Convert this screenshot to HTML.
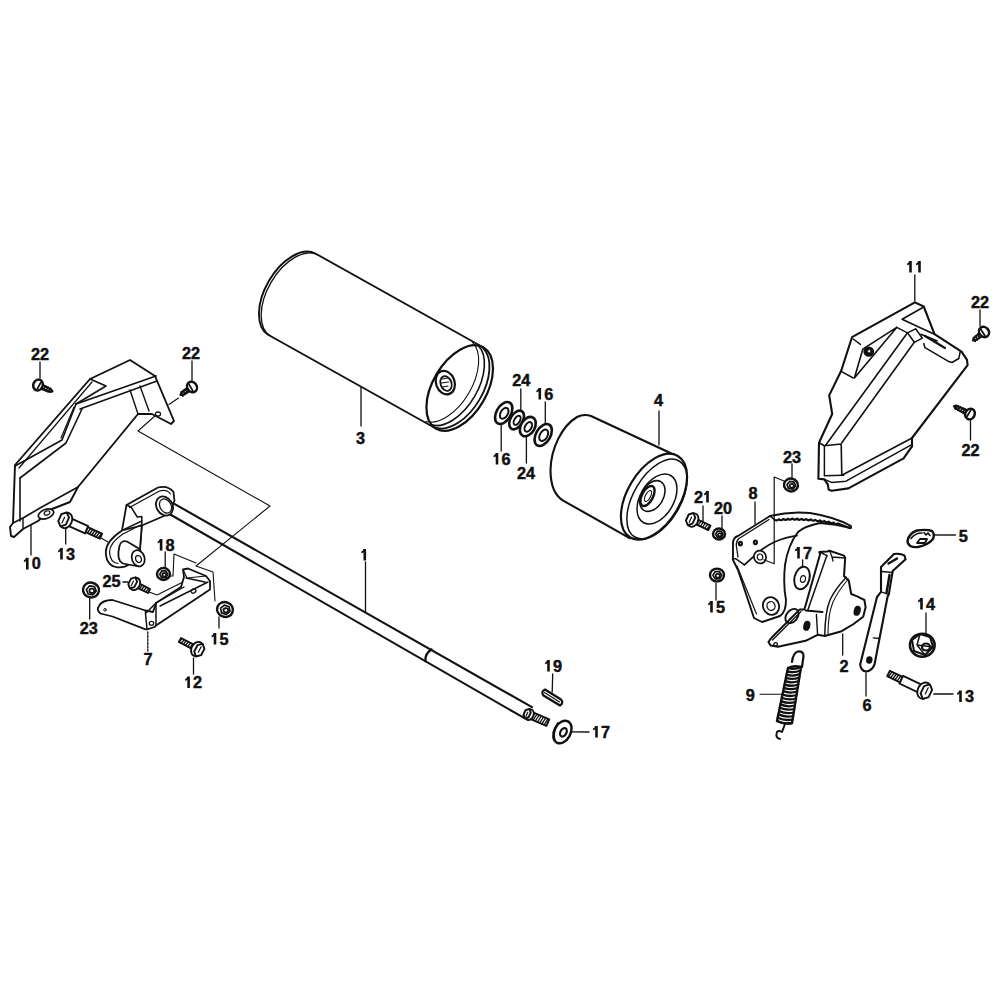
<!DOCTYPE html><html><head><meta charset="utf-8"><style>html,body{margin:0;padding:0;background:#fff;}svg{display:block;}text{font-family:"Liberation Sans",sans-serif;font-weight:bold;fill:#111;stroke:#111;stroke-width:0.45;text-anchor:middle;}</style></head><body>
<svg width="1000" height="1000" viewBox="0 0 1000 1000" stroke="#111" stroke-linecap="round" stroke-linejoin="round" fill="none">
<rect width="1000" height="1000" fill="#fff" stroke="none"/>
<path d="M156,415 L138,431 L270,506 L196,566 L213,572 L215,601" stroke-width="1.1" fill="none" />
<path d="M168,576 L173,576 L174,554 L196,563" stroke-width="1.1" fill="none" />
<path d="M149,592 L157,595 L183,582" stroke-width="1.1" fill="none" />
<path d="M178.5,398 L169,404.5" stroke-width="1.1" fill="none" />
<path d="M101,538 L108,542" stroke-width="1.1" fill="none" />
<path d="M130,360 L155,376 L174,421 L171,424 L152,414 L138,414 L78,487 L70,502 L52,509 L38,521 L23,529 L14,537 L11,536 L10,527 L13,523 L15,465 L90,379 L130,360 Z" stroke-width="1.9" fill="#fff" />
<path d="M76,404 L156,376" stroke-width="1.8" fill="none" />
<path d="M80,409 L157,381" stroke-width="1.5" fill="none" />
<path d="M90,379 L106,386 L76,404" stroke-width="1.6" fill="none" />
<path d="M76,404 L62,440 L15,466" stroke-width="1.6" fill="none" />
<path d="M82,409 L66,443 L20,478" stroke-width="1.6" fill="none" />
<path d="M19,468 L92,382" stroke-width="1.2" fill="none" />
<path d="M74,407 L61,438" stroke-width="1.2" fill="none" />
<path d="M20,478 L20,521" stroke-width="1.6" fill="none" />
<path d="M130,390 L138,414 M140,386 L149,411" stroke-width="1.4" fill="none" />
<ellipse cx="0" cy="0" rx="2.5" ry="2" transform="translate(158,414) rotate(0)" stroke-width="1.3" fill="none" />
<path d="M13,523 L23,518 L40,508 L78,487" stroke-width="1.6" fill="none" />
<path d="M23,518 L23,529" stroke-width="1.4" fill="none" />
<ellipse cx="0" cy="0" rx="8" ry="4.5" transform="translate(46,514) rotate(-20)" stroke-width="1.7" fill="#fff" />
<ellipse cx="0" cy="0" rx="3" ry="2" transform="translate(47,513) rotate(-20)" stroke-width="1.2" fill="none" />
<line x1="31" y1="525" x2="31" y2="555" stroke-width="1.3" />
<path d="M26,557.7 L28.6,557.7 L28.6,569.4 L26,569.4 L26,561.1 Q25.1,561.9 23.9,562.1 L23.9,560.2 Q25.3,559.8 26,557.7 Z" fill="#111" stroke="none"/>
<text x="36.3" y="569.4" font-size="16.3">0</text>
<path d="M37.1,387.1 L50.1,391.9 L52.5,391.5 L51.2,389.5 L38.9,382.9 Z" stroke-width="2.2" fill="#fff" />
<path d="M43,389.7 L45.8,386" stroke-width="1.6" fill="none" />
<path d="M45.4,390.8 L48.1,387.1" stroke-width="1.6" fill="none" />
<path d="M47.8,391.8 L50.5,388.1" stroke-width="1.6" fill="none" />
<ellipse cx="0" cy="0" rx="4.7" ry="5.5" transform="translate(38,385) rotate(24.1)" stroke-width="2.5" fill="#fff" />
<path d="M37.3,388.9 L40.7,382.6" stroke-width="1.8" fill="none" />
<line x1="40" y1="362" x2="40" y2="378" stroke-width="1.3" />
<text x="35.5" y="359.6" font-size="16.3">2</text>
<text x="44.5" y="359.6" font-size="16.3">2</text>
<path d="M190.7,385.2 L181.4,392.7 L180.5,395 L182.9,395 L193.3,388.8 Z" stroke-width="2.2" fill="#fff" />
<path d="M185.4,388.9 L187.1,393.1" stroke-width="1.6" fill="none" />
<path d="M183.2,390.3 L185,394.6" stroke-width="1.6" fill="none" />
<path d="M181.1,391.8 L182.9,396.1" stroke-width="1.6" fill="none" />
<ellipse cx="0" cy="0" rx="4.7" ry="5.5" transform="translate(192,387) rotate(145.2)" stroke-width="2.5" fill="#fff" />
<path d="M189,384.4 L192.7,390.6" stroke-width="1.8" fill="none" />
<line x1="192" y1="361" x2="192" y2="381" stroke-width="1.3" />
<text x="186.5" y="358.6" font-size="16.3">2</text>
<text x="195.5" y="358.6" font-size="16.3">2</text>
<path d="M85.5,532.2 L99.9,538.7 L102.1,533.7 L87.7,527.2 Z" stroke-width="1.9" fill="#fff" />
<path d="M87.3,533 L90.6,528.5" stroke-width="1.3" fill="none" />
<path d="M89.5,534 L92.8,529.5" stroke-width="1.3" fill="none" />
<path d="M91.7,535 L95,530.5" stroke-width="1.3" fill="none" />
<path d="M93.9,536 L97.2,531.5" stroke-width="1.3" fill="none" />
<path d="M96,537 L99.4,532.5" stroke-width="1.3" fill="none" />
<path d="M98.2,538 L101.6,533.4" stroke-width="1.3" fill="none" />
<path d="M63.4,523.6 L85,533.4 L88.2,526.1 L66.6,516.4 Z" stroke-width="1.9" fill="#fff" />
<ellipse cx="0" cy="0" rx="6" ry="8" transform="translate(65.9,520.4) rotate(24.2)" stroke-width="1.9" fill="#fff" />
<path d="M65.9,524.6 L60.5,526.3 L58.3,521.1 L61.4,514.2 L66.8,512.5 L69,517.6Z" stroke-width="1.9" fill="#fff" />
<path d="M62,523 L64.6,517.2" stroke-width="1.2" fill="none" />
<line x1="65.7" y1="528" x2="65.7" y2="544" stroke-width="1.3" />
<path d="M60.2,547.9 L62.8,547.9 L62.8,559.6 L60.2,559.6 L60.2,551.3 Q59.3,552.1 58.1,552.3 L58.1,550.4 Q59.5,550 60.2,547.9 Z" fill="#111" stroke="none"/>
<text x="70.5" y="559.6" font-size="16.3">3</text>
<ellipse cx="0" cy="0" rx="8" ry="7.4" transform="translate(91,590) rotate(10)" stroke-width="2.4" fill="#fff" />
<path d="M96.2,591.1 L93,594.8 L88.1,594 L86.4,589.5 L89.6,585.8 L94.5,586.6Z" stroke-width="1.7" fill="none" />
<ellipse cx="0" cy="0" rx="2.4" ry="2.2" transform="translate(91.8,590.8) rotate(0)" stroke-width="1.8" fill="none" />
<line x1="89.7" y1="598" x2="89.7" y2="619" stroke-width="1.3" />
<text x="84.3" y="634.1" font-size="16.3">2</text>
<text x="93.3" y="634.1" font-size="16.3">3</text>
<path d="M170,501.4 L532,707.2 M524.5,718.2 L166.8,512.5" stroke-width="2.1" fill="none" />
<path d="M431.5,649.5 Q424.5,654 425.5,661" stroke-width="2.4" fill="none" />
<path d="M529,718.3 L546.4,725.8 L549.2,719.4 L531.8,711.9 Z" stroke-width="2.0" fill="#fff" />
<path d="M530.9,719.1 L534.8,713.2" stroke-width="1.3" fill="none" />
<path d="M533.1,720.1 L537,714.1" stroke-width="1.3" fill="none" />
<path d="M535.3,721 L539.2,715.1" stroke-width="1.3" fill="none" />
<path d="M537.5,722 L541.4,716" stroke-width="1.3" fill="none" />
<path d="M539.7,722.9 L543.6,717" stroke-width="1.3" fill="none" />
<path d="M541.9,723.9 L545.8,717.9" stroke-width="1.3" fill="none" />
<path d="M544.1,724.8 L548,718.9" stroke-width="1.3" fill="none" />
<path d="M527.1,717.5 L529,718.3 L531.8,711.9 L529.9,711.1 Z" stroke-width="2.0" fill="#fff" />
<ellipse cx="0" cy="0" rx="4.1" ry="5.5" transform="translate(529.4,714.7) rotate(23.3)" stroke-width="2.0" fill="#fff" />
<path d="M528.7,717.2 L525.1,718.5 L523.5,715 L525.5,710.2 L529.2,708.9 L530.8,712.4Z" stroke-width="2.0" fill="#fff" />
<path d="M526,716.2 L527.8,712.2" stroke-width="1.2" fill="none" />
<path d="M126.5,505 L158,487.5 Q168,485 173.5,492 L174.5,501 L166,515 L161.6,517 L141.8,525.5 L140,548.4 L122,530.4 Z" stroke-width="1.8" fill="#fff" />
<path d="M129.5,507.5 L159.5,491 Q167,489 170.5,494" stroke-width="1.2" fill="none" />
<path d="M126.5,505 L131,507 L137.3,517 L141.8,516.5 L141.8,525.5" stroke-width="1.5" fill="none" />
<path d="M122,530.4 Q106,541 105.8,552 Q106,566 117.5,567.3 Q124,568 130,564 L142,560 L140,548.4 L141.8,525.5 Z" stroke-width="1.8" fill="#fff" />
<path d="M122,530.4 L141.8,521" stroke-width="1.4" fill="none" />
<path d="M124,533.5 L140.5,525" stroke-width="1.2" fill="none" />
<path d="M123.5,533.5 Q109.5,543 109.5,552 Q110,562.5 118,563.5" stroke-width="1.2" fill="none" />
<ellipse cx="0" cy="0" rx="8" ry="10" transform="translate(164.5,506) rotate(-30)" stroke-width="1.8" fill="#fff" />
<ellipse cx="0" cy="0" rx="5.5" ry="7.5" transform="translate(165.5,506) rotate(-30)" stroke-width="1.3" fill="none" />
<path d="M119.5,546 Q121,540 127,541.5 L140,549.3 L139,566.5 L123,563.5 Q116,560 119.5,546 Z" stroke-width="1.7" fill="#fff" />
<ellipse cx="0" cy="0" rx="6.3" ry="8.3" transform="translate(138.2,558.3) rotate(-20)" stroke-width="1.7" fill="#fff" />
<ellipse cx="0" cy="0" rx="2.8" ry="3.5" transform="translate(138.5,559) rotate(-20)" stroke-width="1.3" fill="none" />
<path d="M156,603 L181,587 L184,577 L183,569.5 L188,568.5 L206,576 L210,581 L210,589.5 L156,625.5 L154.5,627 L147,629.3 L145.5,629.3 L112.5,616.5 L100.5,613.5 Q96,610 99,606 Q102,600 112.5,600 L145.5,610.5 L153,612 Z" stroke-width="1.8" fill="#fff" />
<path d="M145.5,613.5 L147,629.3 M145.5,610.5 L145.5,613.5 L156,603" stroke-width="1.5" fill="none" />
<path d="M156,603 L156,625.5" stroke-width="1.5" fill="none" />
<path d="M157.5,602 L184,587 M186,578 L205,582 M160,606 L208,582" stroke-width="1.4" fill="none" />
<path d="M183,569.5 L187,578 L206,576" stroke-width="1.2" fill="none" />
<ellipse cx="0" cy="0" rx="2.5" ry="2" transform="translate(193.5,591) rotate(-30)" stroke-width="1.3" fill="none" />
<ellipse cx="0" cy="0" rx="2.2" ry="2" transform="translate(151.5,623.3) rotate(0)" stroke-width="1.3" fill="none" />
<ellipse cx="0" cy="0" rx="1.3" ry="1.3" transform="translate(105,609.8) rotate(0)" stroke-width="1.0" fill="none" />
<line x1="147.8" y1="632" x2="147.8" y2="651" stroke-width="1.3" stroke-dasharray="2,1.5"/>
<text x="148" y="664.6" font-size="16.3">7</text>
<ellipse cx="0" cy="0" rx="6.5" ry="6" transform="translate(163.5,574) rotate(0)" stroke-width="2.4" fill="#fff" />
<path d="M167.8,574.3 L165.8,577.7 L161.8,577.7 L159.8,574.3 L161.8,570.9 L165.8,570.9Z" stroke-width="1.7" fill="none" />
<ellipse cx="0" cy="0" rx="1.9" ry="1.8" transform="translate(164.3,574.8) rotate(0)" stroke-width="1.8" fill="none" />
<line x1="165.2" y1="552" x2="165.2" y2="567" stroke-width="1.3" />
<path d="M159.8,538.9 L162.4,538.9 L162.4,550.6 L159.8,550.6 L159.8,542.3 Q158.9,543.1 157.7,543.3 L157.7,541.4 Q159.1,541 159.8,538.9 Z" fill="#111" stroke="none"/>
<text x="170.1" y="550.6" font-size="16.3">8</text>
<path d="M137.5,587.8 L148,593 L150,589 L139.5,583.7 Z" stroke-width="1.9" fill="#fff" />
<path d="M139.3,588.7 L142.4,585.2" stroke-width="1.3" fill="none" />
<path d="M141.4,589.7 L144.5,586.2" stroke-width="1.3" fill="none" />
<path d="M143.6,590.8 L146.7,587.3" stroke-width="1.3" fill="none" />
<path d="M145.7,591.9 L148.8,588.4" stroke-width="1.3" fill="none" />
<path d="M132.9,585.7 L137.4,588 L139.6,583.5 L135.1,581.3 Z" stroke-width="1.9" fill="#fff" />
<ellipse cx="0" cy="0" rx="4.9" ry="6.5" transform="translate(134.9,583.9) rotate(26.6)" stroke-width="1.9" fill="#fff" />
<path d="M134.3,587.1 L129.9,588.4 L128.3,584.1 L131,578.6 L135.4,577.3 L137.1,581.6Z" stroke-width="1.9" fill="#fff" />
<path d="M131.2,585.7 L133.5,581.1" stroke-width="1.2" fill="none" />
<line x1="123" y1="582" x2="128" y2="582" stroke-width="1.3" />
<text x="107" y="586.6" font-size="16.3">2</text>
<text x="116" y="586.6" font-size="16.3">5</text>
<ellipse cx="0" cy="0" rx="8" ry="7.4" transform="translate(225,609.5) rotate(20)" stroke-width="2.4" fill="#fff" />
<path d="M230,611.4 L226.2,614.5 L221.5,612.9 L220.6,608.2 L224.4,605.1 L229.1,606.7Z" stroke-width="1.7" fill="none" />
<ellipse cx="0" cy="0" rx="2.4" ry="2.2" transform="translate(225.8,610.3) rotate(0)" stroke-width="1.8" fill="none" />
<line x1="219" y1="617" x2="219" y2="628" stroke-width="1.3" />
<path d="M213.7,632.9 L216.3,632.9 L216.3,644.6 L213.7,644.6 L213.7,636.3 Q212.8,637.1 211.6,637.3 L211.6,635.4 Q213,635 213.7,632.9 Z" fill="#111" stroke="none"/>
<text x="224" y="644.6" font-size="16.3">5</text>
<path d="M194.6,645.1 L181.1,638 L178.9,642 L192.4,649.1 Z" stroke-width="1.9" fill="#fff" />
<path d="M192.8,644.2 L189.6,647.6" stroke-width="1.3" fill="none" />
<path d="M190.7,643.1 L187.5,646.5" stroke-width="1.3" fill="none" />
<path d="M188.5,642 L185.4,645.4" stroke-width="1.3" fill="none" />
<path d="M186.4,640.8 L183.3,644.3" stroke-width="1.3" fill="none" />
<path d="M184.3,639.7 L181.1,643.1" stroke-width="1.3" fill="none" />
<path d="M182.2,638.6 L179,642" stroke-width="1.3" fill="none" />
<path d="M199.1,647.5 L194.6,645.1 L192.4,649.1 L196.9,651.5 Z" stroke-width="1.9" fill="#fff" />
<ellipse cx="0" cy="0" rx="5.6" ry="7.5" transform="translate(197.1,649) rotate(-152.2)" stroke-width="1.9" fill="#fff" />
<path d="M197.5,645.2 L202.7,643.9 L204.4,648.9 L201.1,655.2 L196,656.5 L194.2,651.5Z" stroke-width="1.9" fill="#fff" />
<path d="M201.1,646.9 L198.3,652.2" stroke-width="1.2" fill="none" />
<line x1="193.5" y1="658" x2="193.5" y2="674" stroke-width="1.3" />
<path d="M187.3,676.4 L189.9,676.4 L189.9,688.1 L187.3,688.1 L187.3,679.8 Q186.4,680.6 185.2,680.8 L185.2,678.9 Q186.6,678.5 187.3,676.4 Z" fill="#111" stroke="none"/>
<text x="197.6" y="688.1" font-size="16.3">2</text>
<path d="M315.3,253.5 L483.5,347.5 L435.9,428.5 L267.7,334.5 A47,27 -59.6 0 1 315.3,253.5 Z" stroke-width="1.9" fill="#fff" />
<path d="M270.7,336.3 A47,27 -59.6 0 1 318.3,255.2" stroke-width="1.3" fill="none" />
<ellipse cx="0" cy="0" rx="47" ry="27" transform="translate(459.7,388) rotate(-59.6)" stroke-width="2.2" fill="#fff" />
<path d="M483.2,348.4 A46.5,26.5 -59.6 0 1 436.6,427.8" stroke-width="1.8" fill="none" />
<path d="M478,345.3 A46.5,26.5 -59.6 0 1 431.4,424.8" stroke-width="1.6" fill="none" />
<path d="M472.4,342.1 A46.5,26.5 -59.6 0 1 425.8,421.5" stroke-width="1.1" fill="none" />
<ellipse cx="0" cy="0" rx="9.3" ry="12" transform="translate(445.3,382.6) rotate(-20)" stroke-width="2.2" fill="#fff" />
<ellipse cx="0" cy="0" rx="5.5" ry="7.5" transform="translate(446,383.5) rotate(-20)" stroke-width="1.8" fill="none" />
<path d="M442,379 l6,-1 M441.5,383 l7,-1 M442,387 l6,-1" stroke-width="1.2" fill="none" />
<line x1="361" y1="387" x2="361" y2="426" stroke-width="1.3" />
<text x="360.5" y="443.8" font-size="16.3">3</text>
<ellipse cx="0" cy="0" rx="12" ry="7.2" transform="translate(503.7,413) rotate(-60)" stroke-width="2.6" fill="#fff" />
<ellipse cx="0" cy="0" rx="6" ry="3.6" transform="translate(504.2,413.3) rotate(-60)" stroke-width="2.0" fill="none" />
<ellipse cx="0" cy="0" rx="10.2" ry="6.2" transform="translate(516.6,420) rotate(-60)" stroke-width="2.6" fill="#fff" />
<ellipse cx="0" cy="0" rx="5" ry="2.8" transform="translate(517.1,420.3) rotate(-60)" stroke-width="2.0" fill="none" />
<ellipse cx="0" cy="0" rx="10.4" ry="7" transform="translate(527.8,426.6) rotate(-60)" stroke-width="2.6" fill="#fff" />
<ellipse cx="0" cy="0" rx="5.2" ry="3.2" transform="translate(528.3,426.9) rotate(-60)" stroke-width="2.0" fill="none" />
<ellipse cx="0" cy="0" rx="12" ry="7.2" transform="translate(543.2,435) rotate(-60)" stroke-width="2.6" fill="#fff" />
<ellipse cx="0" cy="0" rx="6.2" ry="3.8" transform="translate(543.7,435.3) rotate(-60)" stroke-width="2.0" fill="none" />
<line x1="520.8" y1="389" x2="520.8" y2="411" stroke-width="1.3" />
<text x="516.7" y="386.1" font-size="16.3">2</text>
<text x="525.7" y="386.1" font-size="16.3">4</text>
<line x1="545.3" y1="402" x2="545.3" y2="424" stroke-width="1.3" />
<path d="M538.5,387.9 L541.1,387.9 L541.1,399.6 L538.5,399.6 L538.5,391.3 Q537.6,392.1 536.4,392.3 L536.4,390.4 Q537.8,390 538.5,387.9 Z" fill="#111" stroke="none"/>
<text x="548.8" y="399.6" font-size="16.3">6</text>
<line x1="501.2" y1="425" x2="501.2" y2="451" stroke-width="1.3" />
<path d="M495.7,452.9 L498.3,452.9 L498.3,464.6 L495.7,464.6 L495.7,456.3 Q494.8,457.1 493.6,457.3 L493.6,455.4 Q495,455 495.7,452.9 Z" fill="#111" stroke="none"/>
<text x="506" y="464.6" font-size="16.3">6</text>
<line x1="526.4" y1="437" x2="526.4" y2="463" stroke-width="1.3" />
<text x="521.5" y="478.6" font-size="16.3">2</text>
<text x="530.5" y="478.6" font-size="16.3">4</text>
<path d="M671.4,453.5 L591,416 Q584,413.5 577,417 C562,426 551,448 550.5,470 C550.5,485 555,496 563.6,500.8 L629.6,538.2 Z" stroke-width="2.1" fill="#fff" />
<ellipse cx="0" cy="0" rx="47.2" ry="26.6" transform="translate(654,496.7) rotate(-59.7)" stroke-width="2.2" fill="#fff" />
<ellipse cx="0" cy="0" rx="44" ry="23.6" transform="translate(657,499) rotate(-59.7)" stroke-width="1.5" fill="none" />
<ellipse cx="0" cy="0" rx="27.2" ry="16.8" transform="translate(657,499) rotate(-59.7)" stroke-width="1.5" fill="none" />
<ellipse cx="0" cy="0" rx="16.6" ry="11" transform="translate(652.4,496) rotate(-59.7)" stroke-width="1.6" fill="none" />
<ellipse cx="0" cy="0" rx="11" ry="5.5" transform="translate(647.5,496) rotate(-62)" stroke-width="2.4" fill="none" />
<ellipse cx="0" cy="0" rx="6" ry="2.5" transform="translate(648,496) rotate(-62)" stroke-width="1.2" fill="none" />
<line x1="659" y1="411" x2="659" y2="445" stroke-width="1.3" />
<text x="658.6" y="405.9" font-size="16.3">4</text>
<path d="M545,689.5 L561,699.5 Q564,703 560,705.5 L543.5,695.5 Q540.5,691.5 545,689.5 Z" stroke-width="2.2" fill="#fff" />
<line x1="544.5" y1="692.5" x2="559.5" y2="702" stroke-width="1.3" />
<line x1="552.7" y1="674" x2="552.2" y2="692" stroke-width="1.3" />
<path d="M547.2,659.9 L549.8,659.9 L549.8,671.6 L547.2,671.6 L547.2,663.3 Q546.3,664.1 545.1,664.3 L545.1,662.4 Q546.5,662 547.2,659.9 Z" fill="#111" stroke="none"/>
<text x="557.5" y="671.6" font-size="16.3">9</text>
<ellipse cx="0" cy="0" rx="12" ry="8.2" transform="translate(562.4,732) rotate(-62)" stroke-width="2.4" fill="#fff" />
<path d="M555,741 Q552,733 558,723" stroke-width="2.0" fill="none" />
<ellipse cx="0" cy="0" rx="4.5" ry="3" transform="translate(563.4,732.3) rotate(-62)" stroke-width="2.2" fill="none" />
<line x1="572" y1="731.8" x2="589" y2="732" stroke-width="1.3" />
<path d="M595.2,725.9 L597.8,725.9 L597.8,737.6 L595.2,737.6 L595.2,729.3 Q594.3,730.1 593.1,730.3 L593.1,728.4 Q594.5,728 595.2,725.9 Z" fill="#111" stroke="none"/>
<text x="605.5" y="737.6" font-size="16.3">7</text>
<line x1="365.5" y1="562" x2="365.5" y2="612" stroke-width="1.3" />
<path d="M363.5,548.9 L366.1,548.9 L366.1,560.6 L363.5,560.6 L363.5,552.3 Q362.6,553.1 361.4,553.3 L361.4,551.4 Q362.8,551 363.5,548.9 Z" fill="#111" stroke="none"/>
<path d="M914.9,302.4 L923.7,306.5 L934.5,334.2 L961.5,351.7 L967,359.8 L967.6,365.2 L912,438 L912,446.4 L903.6,458.4 L848.4,488.4 L831.6,490.8 L828.6,489.6 L828,484.8 L824.4,479.4 L818.4,478.8 L819,442.8 L832.2,414 L829.2,395.4 L841.2,370.8 L852,337.2 Z" stroke-width="2.1" fill="#fff" />
<path d="M853.2,339 L860.4,344.4 M841.2,371.4 L853.2,378" stroke-width="1.5" fill="none" />
<path d="M896.7,327.4 L862.8,349.2 L854.4,378 Z" stroke-width="1.6" fill="none" />
<path d="M902.1,319.3 L922.4,307.8 M902.1,319.3 L919.7,327.4 L934.5,334.2" stroke-width="1.6" fill="none" />
<path d="M896.7,327.4 L907.5,332.8 L915.6,328.8 M907.5,332.8 L914.3,342.3 L922.4,338.2 L915.6,328.8" stroke-width="1.5" fill="none" />
<path d="M907.5,332.8 L825.6,445.2 M914.3,342.3 L841.8,442.8" stroke-width="1.6" fill="none" />
<path d="M921,334.2 L937.2,341 M923.7,343.6 L925,347.7 L948,361.2 L952,362.5 L958.8,358.5 L960.2,351.7" stroke-width="1.5" fill="none" />
<path d="M925,336 L945,348" stroke-width="2.2" fill="none" />
<path d="M819,442.8 L824.4,445.8 L841.2,444 L841.8,475.2 L912,438" stroke-width="1.6" fill="none" />
<path d="M824.4,445.8 L824.4,475.8 L843.6,475.2" stroke-width="1.5" fill="none" />
<path d="M824.4,479.4 L831.6,482.4 L846,481.2 L910.8,445.2" stroke-width="1.5" fill="none" />
<ellipse cx="0" cy="0" rx="4.6" ry="4.4" transform="translate(868.8,351.6) rotate(0)" stroke-width="1.6" fill="#111" />
<ellipse cx="0" cy="0" rx="1.6" ry="1.6" transform="translate(869.3,351.2) rotate(0)" stroke-width="0.8" fill="#fff" />
<line x1="914.8" y1="275" x2="914.8" y2="301" stroke-width="1.3" />
<path d="M909.2,260.9 L911.8,260.9 L911.8,272.6 L909.2,272.6 L909.2,264.3 Q908.3,265.1 907.1,265.3 L907.1,263.4 Q908.5,263 909.2,260.9 Z" fill="#111" stroke="none"/>
<path d="M918.2,260.9 L920.8,260.9 L920.8,272.6 L918.2,272.6 L918.2,264.3 Q917.3,265.1 916.1,265.3 L916.1,263.4 Q917.5,263 918.2,260.9 Z" fill="#111" stroke="none"/>
<path d="M982.6,330.2 L973.8,338.2 L973,340.5 L975.4,340.3 L985.4,333.8 Z" stroke-width="2.2" fill="#fff" />
<path d="M977.5,334.2 L979.4,338.4" stroke-width="1.6" fill="none" />
<path d="M975.4,335.8 L977.4,340" stroke-width="1.6" fill="none" />
<path d="M973.4,337.4 L975.3,341.5" stroke-width="1.6" fill="none" />
<ellipse cx="0" cy="0" rx="4.7" ry="5.5" transform="translate(984,332) rotate(142.3)" stroke-width="2.5" fill="#fff" />
<path d="M980.9,329.6 L984.8,335.5" stroke-width="1.8" fill="none" />
<line x1="980" y1="310" x2="980" y2="326" stroke-width="1.3" />
<text x="975.5" y="307.6" font-size="16.3">2</text>
<text x="984.5" y="307.6" font-size="16.3">2</text>
<path d="M971,412 L956.4,405.7 L954,406 L955.2,408.1 L969,416 Z" stroke-width="2.2" fill="#fff" />
<path d="M965.2,409.1 L962.3,412.7" stroke-width="1.6" fill="none" />
<path d="M962.9,407.9 L960,411.5" stroke-width="1.6" fill="none" />
<path d="M960.5,406.8 L957.6,410.3" stroke-width="1.6" fill="none" />
<path d="M958.2,405.6 L955.3,409.2" stroke-width="1.6" fill="none" />
<ellipse cx="0" cy="0" rx="4.7" ry="5.5" transform="translate(970,414) rotate(-153.4)" stroke-width="2.5" fill="#fff" />
<path d="M970.8,410.1 L967.2,416.3" stroke-width="1.8" fill="none" />
<line x1="970.5" y1="419.5" x2="970.5" y2="440" stroke-width="1.3" />
<text x="966" y="455.6" font-size="16.3">2</text>
<text x="975" y="455.6" font-size="16.3">2</text>
<path d="M733,542 Q734,537 738,536 L770,516 Q790,511 810,513 Q835,517 851,526 L851,528 Q836,524 820,523 Q805,526 798,532 Q788,545 785,565 Q783,585 786,600 Q786,612 780,616 L762,622 L754,618 L738,570 L733,560 Z" stroke-width="1.9" fill="#fff" />
<path d="M770,516 L774.2,519.5" stroke-width="1.6" fill="none" />
<path d="M774.2,519.5 Q776.5,521.5 778.8,519.2 Q781,521.3 783.3,518.9 Q785.6,521 787.9,518.7 Q790.2,520.9 792.4,518.6 Q794.7,520.8 797,518.6 Q799.3,520.9 801.5,518.8 Q803.8,521.1 806.1,519 Q808.4,521.3 810.7,519.3 Q812.9,521.7 815.2,519.8 Q817.5,522.2 819.8,520.3 Q822,522.8 824.3,521 Q826.6,523.5 828.9,521.7 Q831.2,524.3 833.4,522.5 Q835.7,525.2 838,523.4 L849.6,528" stroke-width="2.2" fill="none" />
<path d="M744.4,564.8 L757.6,552.8 Q766,546 774.4,542 Q786,537 797,535.6" stroke-width="1.8" fill="none" />
<path d="M769,519.5 L739,538.5 Q735.5,541.5 736.5,547 L738,557" stroke-width="1.3" fill="none" />
<path d="M732.4,558.8 L736,558.8 L744.4,564.8" stroke-width="1.5" fill="none" />
<path d="M737,566 L756.5,614" stroke-width="1.2" fill="none" />
<ellipse cx="0" cy="0" rx="8" ry="9" transform="translate(771,606) rotate(-20)" stroke-width="1.8" fill="#fff" />
<ellipse cx="0" cy="0" rx="4" ry="4.5" transform="translate(771,606) rotate(-20)" stroke-width="1.3" fill="none" />
<ellipse cx="0" cy="0" rx="6" ry="6.5" transform="translate(760,557) rotate(-20)" stroke-width="1.7" fill="#fff" />
<ellipse cx="0" cy="0" rx="2.8" ry="3" transform="translate(760,557) rotate(-20)" stroke-width="1.2" fill="none" />
<ellipse cx="0" cy="0" rx="1.5" ry="1.8" transform="translate(740.4,543.6) rotate(0)" stroke-width="2.2" fill="none" />
<ellipse cx="0" cy="0" rx="1.5" ry="1.8" transform="translate(755.4,542.3) rotate(0)" stroke-width="2.2" fill="none" />
<line x1="755" y1="502" x2="755" y2="524" stroke-width="1.3" />
<text x="753" y="498.6" font-size="16.3">8</text>
<path d="M784,481 L774.2,477 L774.2,563.7 L763.8,559.8" stroke-width="1.2" fill="none" />
<ellipse cx="0" cy="0" rx="7" ry="6.4" transform="translate(791,485) rotate(10)" stroke-width="2.4" fill="#fff" />
<path d="M795.6,486 L792.8,489.2 L788.5,488.5 L787,484.6 L789.8,481.4 L794.1,482.1Z" stroke-width="1.7" fill="none" />
<ellipse cx="0" cy="0" rx="2.1" ry="2" transform="translate(791.8,485.8) rotate(0)" stroke-width="1.8" fill="none" />
<line x1="792" y1="464" x2="792" y2="479" stroke-width="1.3" />
<text x="787.5" y="462.6" font-size="16.3">2</text>
<text x="796.5" y="462.6" font-size="16.3">3</text>
<path d="M696.2,524.4 L708.3,530.1 L710.5,525.5 L698.3,519.9 Z" stroke-width="1.9" fill="#fff" />
<path d="M698,525.2 L701.2,521.2" stroke-width="1.3" fill="none" />
<path d="M700.2,526.3 L703.4,522.2" stroke-width="1.3" fill="none" />
<path d="M702.3,527.3 L705.5,523.2" stroke-width="1.3" fill="none" />
<path d="M704.5,528.3 L707.7,524.3" stroke-width="1.3" fill="none" />
<path d="M706.7,529.3 L709.9,525.3" stroke-width="1.3" fill="none" />
<path d="M690.9,522 L696.2,524.4 L698.3,519.9 L693.1,517.4 Z" stroke-width="1.9" fill="#fff" />
<ellipse cx="0" cy="0" rx="5.2" ry="7" transform="translate(692.9,520.1) rotate(25)" stroke-width="1.9" fill="#fff" />
<path d="M692.5,523.6 L687.8,525.1 L685.9,520.5 L688.7,514.5 L693.4,513 L695.3,517.6Z" stroke-width="1.9" fill="#fff" />
<path d="M689.2,522.2 L691.5,517.2" stroke-width="1.2" fill="none" />
<line x1="703" y1="506" x2="703" y2="522" stroke-width="1.3" />
<text x="698.5" y="502.6" font-size="16.3">2</text>
<path d="M706.2,490.9 L708.8,490.9 L708.8,502.6 L706.2,502.6 L706.2,494.3 Q705.3,495.1 704.1,495.3 L704.1,493.4 Q705.5,493 706.2,490.9 Z" fill="#111" stroke="none"/>
<ellipse cx="0" cy="0" rx="6" ry="5.5" transform="translate(719,534) rotate(0)" stroke-width="2.4" fill="#fff" />
<path d="M723,534.3 L721.2,537.4 L717.4,537.4 L715.6,534.3 L717.4,531.2 L721.2,531.2Z" stroke-width="1.7" fill="none" />
<ellipse cx="0" cy="0" rx="1.8" ry="1.7" transform="translate(719.8,534.8) rotate(0)" stroke-width="1.8" fill="none" />
<line x1="722" y1="516" x2="722" y2="528" stroke-width="1.3" />
<text x="718.5" y="513.6" font-size="16.3">2</text>
<text x="727.5" y="513.6" font-size="16.3">0</text>
<ellipse cx="0" cy="0" rx="7" ry="6.4" transform="translate(717,575) rotate(0)" stroke-width="2.4" fill="#fff" />
<path d="M721.6,575.3 L719.5,578.9 L715.1,578.9 L713,575.3 L715.1,571.7 L719.5,571.7Z" stroke-width="1.7" fill="none" />
<ellipse cx="0" cy="0" rx="2.1" ry="2" transform="translate(717.8,575.8) rotate(0)" stroke-width="1.8" fill="none" />
<line x1="716" y1="583" x2="716" y2="600" stroke-width="1.3" />
<path d="M710.2,600.9 L712.8,600.9 L712.8,612.6 L710.2,612.6 L710.2,604.3 Q709.3,605.1 708.1,605.3 L708.1,603.4 Q709.5,603 710.2,600.9 Z" fill="#111" stroke="none"/>
<text x="720.5" y="612.6" font-size="16.3">5</text>
<ellipse cx="0" cy="0" rx="7.5" ry="11.5" transform="translate(802,578) rotate(15)" stroke-width="1.9" fill="#fff" />
<ellipse cx="0" cy="0" rx="2.5" ry="3.5" transform="translate(803,579) rotate(15)" stroke-width="1.2" fill="none" />
<line x1="802.6" y1="560" x2="802.6" y2="567" stroke-width="1.3" />
<path d="M797.2,546.9 L799.8,546.9 L799.8,558.6 L797.2,558.6 L797.2,550.3 Q796.3,551.1 795.1,551.3 L795.1,549.4 Q796.5,549 797.2,546.9 Z" fill="#111" stroke="none"/>
<text x="807.5" y="558.6" font-size="16.3">7</text>
<path d="M819.4,552 L827.2,551.5 L829.6,550.8 L844,555.6 L845.2,558 L844,576 L848.8,580.8 L851.2,594 L857.2,596.4 L864.4,600 L865.6,607.2 L863.2,616.8 L853.6,624 L841.6,631.2 L824.8,636 L817.6,634.8 L805.6,640.8 L778,646.8 L770.8,645.6 L768.4,642 L772,637.2 L799.6,609.6 L804.4,609.6 L820,554.4 Z" stroke-width="2.0" fill="#fff" />
<path d="M826,558 L808,609.6 M819.4,552 L827.2,555.6 L826,558" stroke-width="1.5" fill="none" />
<path d="M829.6,550.8 L832,557 L833,561 M832,557 L845.2,558" stroke-width="1.3" fill="none" />
<path d="M846.4,577.2 Q835,589 830,600 Q825,612 824.8,636" stroke-width="1.5" fill="none" />
<path d="M848.5,579 Q838,591 833,602 Q828,614 828,634" stroke-width="1.1" fill="none" />
<path d="M816.4,614.4 L817.6,634.8" stroke-width="1.4" fill="none" />
<path d="M806,610.5 L822.4,612" stroke-width="2.2" fill="none" />
<path d="M772.5,640 L801,611.5" stroke-width="1.2" fill="none" />
<ellipse cx="0" cy="0" rx="2.6" ry="4.2" transform="translate(806.8,625.8) rotate(15)" stroke-width="1.8" fill="#111" />
<ellipse cx="0" cy="0" rx="2.6" ry="4.2" transform="translate(857.2,610.8) rotate(15)" stroke-width="1.8" fill="#111" />
<ellipse cx="0" cy="0" rx="1.8" ry="1.8" transform="translate(775.6,644.4) rotate(0)" stroke-width="1.4" fill="none" />
<ellipse cx="0" cy="0" rx="8" ry="5.5" transform="translate(792,616) rotate(-50)" stroke-width="1.9" fill="none" />
<line x1="842.7" y1="634" x2="842.7" y2="655" stroke-width="1.3" />
<text x="844" y="671.6" font-size="16.3">2</text>
<path d="M788,668 Q794,665 801,667 L792,723 Q785,725 777,721 Z" stroke-width="2.4" fill="#fff" />
<path d="M788,668 Q794.5,670 801,667" stroke-width="2.3" fill="none" />
<path d="M787.3,671.3 Q793.9,673.4 800.4,670.5" stroke-width="2.3" fill="none" />
<path d="M786.6,674.6 Q793.2,676.8 799.9,674" stroke-width="2.3" fill="none" />
<path d="M785.9,677.9 Q792.6,680.2 799.3,677.5" stroke-width="2.3" fill="none" />
<path d="M785.2,681.2 Q792,683.6 798.8,681" stroke-width="2.3" fill="none" />
<path d="M784.6,684.6 Q791.4,687 798.2,684.5" stroke-width="2.3" fill="none" />
<path d="M783.9,687.9 Q790.8,690.4 797.6,688" stroke-width="2.3" fill="none" />
<path d="M783.2,691.2 Q790.1,693.8 797.1,691.5" stroke-width="2.3" fill="none" />
<path d="M782.5,694.5 Q789.5,697.2 796.5,695" stroke-width="2.3" fill="none" />
<path d="M781.8,697.8 Q788.9,700.7 795.9,698.5" stroke-width="2.3" fill="none" />
<path d="M781.1,701.1 Q788.2,704.1 795.4,702" stroke-width="2.3" fill="none" />
<path d="M780.4,704.4 Q787.6,707.5 794.8,705.5" stroke-width="2.3" fill="none" />
<path d="M779.8,707.8 Q787,710.9 794.2,709" stroke-width="2.3" fill="none" />
<path d="M779.1,711.1 Q786.4,714.3 793.7,712.5" stroke-width="2.3" fill="none" />
<path d="M778.4,714.4 Q785.8,717.7 793.1,716" stroke-width="2.3" fill="none" />
<path d="M777.7,717.7 Q785.1,721.1 792.6,719.5" stroke-width="2.3" fill="none" />
<path d="M777,721 Q784.5,724.5 792,723" stroke-width="2.3" fill="none" />
<path d="M792,662 Q793,653 798,651.5 Q803.5,651 803.5,656 L802,667" stroke-width="2.2" fill="none" />
<path d="M785,724 L782,732 Q779,730 777,732 Q775,738 780,739" stroke-width="2.0" fill="none" />
<line x1="760" y1="694.3" x2="783" y2="694.3" stroke-width="1.1" />
<text x="750.4" y="700.6" font-size="16.3">9</text>
<path d="M881,567 L894,554 Q900,553 904.4,555.4 L905.6,559.3 L892.7,571 L888.8,594.4 L887.5,597 L874.5,664.5 Q872,671 866,671.5 Q861,671 860.2,664.5 L877,597 L881,591.8 Z" stroke-width="2.1" fill="#fff" />
<path d="M881.5,571.5 L892.7,572.5" stroke-width="1.6" fill="none" />
<path d="M889.5,575 L886.5,593" stroke-width="2.4" fill="none" />
<path d="M881,591.8 L888.8,594.4" stroke-width="1.3" fill="none" />
<path d="M888.5,563.5 L897,558.5" stroke-width="2.4" fill="none" />
<path d="M873.2,637.9 L879.7,638.5" stroke-width="1.3" fill="none" />
<ellipse cx="0" cy="0" rx="2.4" ry="3" transform="translate(869.3,660) rotate(10)" stroke-width="1.6" fill="#111" />
<line x1="866" y1="673" x2="866" y2="696" stroke-width="1.3" />
<text x="867" y="711.3" font-size="16.3">6</text>
<ellipse cx="0" cy="0" rx="12.3" ry="11.5" transform="translate(922.3,645.2) rotate(0)" stroke-width="2.6" fill="#fff" />
<path d="M912,640 L920,634 L930,637 L933,647 L925,655 L914,651 Z" stroke-width="2.0" fill="none" />
<path d="M920,634 L917,645 L925,655 M917,645 L933,647" stroke-width="1.5" fill="none" />
<ellipse cx="0" cy="0" rx="4" ry="3.5" transform="translate(926,647) rotate(0)" stroke-width="2.2" fill="none" />
<line x1="926" y1="613" x2="926" y2="633" stroke-width="1.3" />
<path d="M920.2,597.9 L922.8,597.9 L922.8,609.6 L920.2,609.6 L920.2,601.3 Q919.3,602.1 918.1,602.3 L918.1,600.4 Q919.5,600 920.2,597.9 Z" fill="#111" stroke="none"/>
<text x="930.5" y="609.6" font-size="16.3">4</text>
<path d="M902.6,676.9 L889.8,670.8 L887.2,676.2 L900,682.3 Z" stroke-width="1.9" fill="#fff" />
<path d="M900.8,676.1 L897.1,680.9" stroke-width="1.3" fill="none" />
<path d="M898.6,675 L894.9,679.9" stroke-width="1.3" fill="none" />
<path d="M896.4,674 L892.8,678.9" stroke-width="1.3" fill="none" />
<path d="M894.3,672.9 L890.6,677.8" stroke-width="1.3" fill="none" />
<path d="M892.1,671.9 L888.4,676.8" stroke-width="1.3" fill="none" />
<path d="M926.8,687.2 L903.1,675.8 L899.4,683.5 L923.2,694.8 Z" stroke-width="1.9" fill="#fff" />
<ellipse cx="0" cy="0" rx="6.4" ry="8.5" transform="translate(924.1,690.6) rotate(-154.4)" stroke-width="1.9" fill="#fff" />
<path d="M924.1,686.1 L929.8,684.4 L932.1,689.9 L928.6,697.2 L922.9,698.9 L920.6,693.4Z" stroke-width="1.9" fill="#fff" />
<path d="M928.2,687.8 L925.3,693.9" stroke-width="1.2" fill="none" />
<line x1="933.7" y1="694" x2="953" y2="694" stroke-width="1.3" />
<path d="M959.2,690.4 L961.8,690.4 L961.8,702.1 L959.2,702.1 L959.2,693.8 Q958.3,694.6 957.1,694.8 L957.1,692.9 Q958.5,692.5 959.2,690.4 Z" fill="#111" stroke="none"/>
<text x="969.5" y="702.1" font-size="16.3">3</text>
<path d="M907.5,541 Q909,533 917,530.5 Q926,529 932,531 Q935,534 933,539 Q928,545 918,547 Q908,548 907.5,541 Z" stroke-width="2.4" fill="#fff" />
<path d="M911,538.5 Q915,533 922,533 M924,532.5 l2,2.5 l2,-2 l2,2.5" stroke-width="1.6" fill="none" />
<path d="M917,543 L920,539 L927,539 L925,543 Z" stroke-width="1.8" fill="none" />
<line x1="934" y1="535" x2="955.6" y2="535" stroke-width="1.3" stroke-dasharray="1.5,1"/>
<text x="963.4" y="541.6" font-size="16.3">5</text>
</svg></body></html>
